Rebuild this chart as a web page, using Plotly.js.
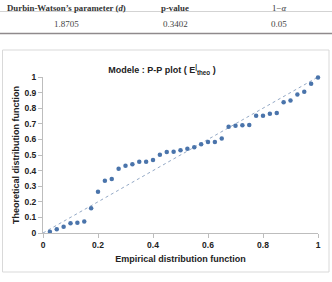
<!DOCTYPE html>
<html>
<head>
<meta charset="utf-8">
<script src="https://cdn.plot.ly/plotly-3.0.1.min.js"></script>
<style>
  html, body { margin: 0; padding: 0; background: #fff; }
  #chart { width: 332px; height: 282px; }
</style>
</head>
<body>
<div id="chart"></div>
<script>
// Durbin-Watson test summary shown above the plot
const tableHeaders = ["Durbin-Watson’s parameter (<i>d</i>)", "p-value", "1−<i>α</i>"];
const tableValues = ["1.8705", "0.3402", "0.05"];

// Empirical vs theoretical distribution function (40 residuals)
const empirical = [
  0.025, 0.05, 0.075, 0.10, 0.125, 0.15, 0.175, 0.20, 0.225, 0.25,
  0.275, 0.30, 0.325, 0.35, 0.375, 0.40, 0.425, 0.45, 0.475, 0.50,
  0.525, 0.55, 0.575, 0.60, 0.625, 0.65, 0.675, 0.70, 0.725, 0.75,
  0.775, 0.80, 0.825, 0.85, 0.875, 0.90, 0.925, 0.95, 0.975, 1.0
];
const theoretical = [
  0.008, 0.024, 0.040, 0.062, 0.066, 0.073, 0.158, 0.265, 0.335, 0.346,
  0.412, 0.431, 0.440, 0.457, 0.457, 0.468, 0.502, 0.519, 0.521, 0.530,
  0.540, 0.549, 0.569, 0.583, 0.583, 0.605, 0.681, 0.688, 0.690, 0.692,
  0.751, 0.752, 0.765, 0.770, 0.838, 0.849, 0.888, 0.906, 0.957, 0.996
];
const refLine = [0, 1];

const xTicks = [0, 0.2, 0.4, 0.6, 0.8, 1];
const yTicks = [0, 0.1, 0.2, 0.3, 0.4, 0.5, 0.6, 0.7, 0.8, 0.9, 1];

// Plot area geometry (pixels) used to place the table and frame around it
const W = 332, H = 282;
const M = { l: 43, r: 14, t: 77, b: 49 };
const PW = W - M.l - M.r, PH = H - M.t - M.b;
const px = v => (v - M.l) / PW;
const py = v => (H - M.b - v) / PH;

const serif = "Liberation Serif, Times New Roman, serif";
const sans = "Liberation Sans, Arial, sans-serif";

const headerX = [66, 175, 279];
const annotations = [];
tableHeaders.forEach((t, i) => {
  annotations.push({
    xref: "paper", yref: "paper", x: px(headerX[i]), y: py(7.5),
    text: i < 2 ? "<b>" + t + "</b>" : t, showarrow: false,
    xanchor: "center", yanchor: "middle",
    font: { family: serif, size: 8.8, color: "#333" }
  });
});
tableValues.forEach((t, i) => {
  annotations.push({
    xref: "paper", yref: "paper", x: px(headerX[i]), y: py(24),
    text: t, showarrow: false, xanchor: "center", yanchor: "middle",
    font: { family: serif, size: 9, color: "#444" }
  });
});

const shapes = [
  { type: "line", xref: "paper", yref: "paper", x0: px(0), x1: px(W), y0: py(11.5), y1: py(11.5),
    line: { color: "#c8c8c8", width: 0.8 } },
  { type: "line", xref: "paper", yref: "paper", x0: px(0), x1: px(W), y0: py(33.5), y1: py(33.5),
    line: { color: "#8f8a8c", width: 1.4 } },
  { type: "rect", xref: "paper", yref: "paper", x0: px(2.5), x1: px(329), y0: py(50), y1: py(272),
    line: { color: "#d9d9d9", width: 1 }, fillcolor: "rgba(0,0,0,0)" }
];

const traces = [
  {
    x: refLine, y: refLine, mode: "lines", type: "scatter",
    line: { color: "#94a9c6", width: 1, dash: "dot" },
    hoverinfo: "skip", cliponaxis: false
  },
  {
    x: empirical, y: theoretical, mode: "markers", type: "scatter",
    marker: { color: "#4a74ab", size: 4.5 },
    cliponaxis: false
  }
];

const axisCommon = {
  showgrid: false, zeroline: false, showline: true,
  linecolor: "#bdbdbd", linewidth: 1,
  ticks: "outside", ticklen: 4, tickcolor: "#bdbdbd", tickwidth: 1,
  tickfont: { family: sans, size: 8.5, color: "#222", weight: "bold" },
  fixedrange: true
};

const layout = {
  width: W, height: H,
  margin: M,
  paper_bgcolor: "#fff", plot_bgcolor: "#fff",
  showlegend: false,
  title: {
    text: "<b>Modele : P-P plot ( E<sup>|</sup><sub>theo</sub> )</b>",
    font: { family: sans, size: 9, color: "#222" },
    x: px(162), xref: "paper", xanchor: "center",
    y: 1 - 69.5 / H, yref: "container", yanchor: "middle"
  },
  xaxis: Object.assign({}, axisCommon, {
    range: [0, 1], tickvals: xTicks, ticktext: xTicks.map(String),
    title: { text: "<b>Empirical distribution function</b>", standoff: 6,
             font: { family: sans, size: 9, color: "#222" } }
  }),
  yaxis: Object.assign({}, axisCommon, {
    range: [0, 1], tickvals: yTicks, ticktext: yTicks.map(String),
    title: { text: "<b>Theoretical distribution function</b>", standoff: 3,
             font: { family: sans, size: 9, color: "#222" } }
  }),
  annotations: annotations,
  shapes: shapes
};

Plotly.newPlot("chart", traces, layout, { displayModeBar: false, staticPlot: true });
</script>
</body>
</html>
